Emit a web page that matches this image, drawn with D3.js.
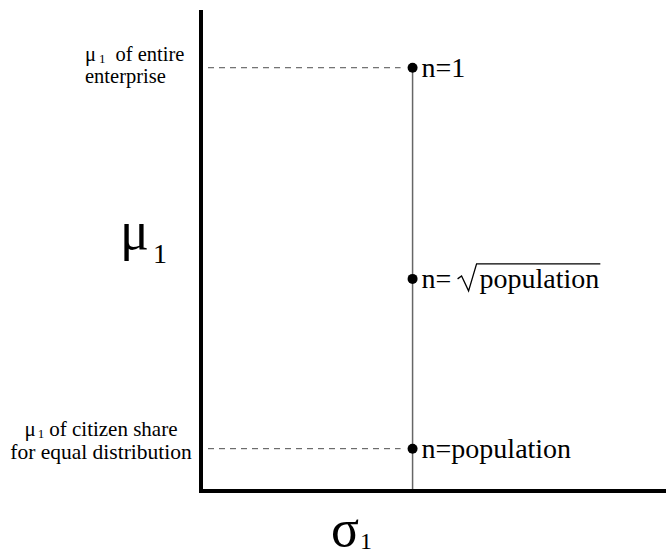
<!DOCTYPE html>
<html>
<head>
<meta charset="utf-8">
<script src="https://cdn.jsdelivr.net/npm/d3@7"></script>
<style>
body { margin: 0; background: #fff; }
svg text { font-family: "Liberation Serif", "Times New Roman", "DejaVu Serif", serif; fill: #000; }
</style>
</head>
<body>
<script>
// conceptual values (axis units 0..1)
var sigmaValue = 0.455;
var muValues = [0.88, 0.441, 0.088];
var pointLabels = ["n=1", "n=", "n=population"];
var dashedLevels = [0, 2];

var width = 666, height = 558;
var x = d3.scaleLinear().domain([0, 1]).range([201, 666]);
var y = d3.scaleLinear().domain([0, 1]).range([491, 10]);

var svg = d3.select("body").append("svg")
	.attr("width", width)
	.attr("height", height);

// vertical line through points
svg.append("line")
	.attr("x1", x(sigmaValue)).attr("x2", x(sigmaValue))
	.attr("y1", y(muValues[0])).attr("y2", y(0))
	.style("stroke", "#666").style("stroke-width", 1.5);

// dashed guides
svg.selectAll(".guide")
	.data(dashedLevels)
	.enter().append("line")
	.attr("class", "guide")
	.attr("x1", 208)
	.attr("x2", x(sigmaValue) - 12)
	.attr("y1", function(d) { return y(muValues[d]); })
	.attr("y2", function(d) { return y(muValues[d]); })
	.style("stroke", "#000").style("stroke-width", 0.7)
	.style("stroke-dasharray", "6,5");

// axes
svg.append("path")
	.attr("d", "M" + x(0) + "," + y(1) + "V" + y(0) + "H" + x(1))
	.style("fill", "none").style("stroke", "#000").style("stroke-width", 4);

// points
svg.selectAll(".pt")
	.data(muValues)
	.enter().append("circle")
	.attr("class", "pt")
	.attr("cx", x(sigmaValue))
	.attr("cy", function(d) { return y(d); })
	.attr("r", 5);

svg.selectAll(".lbl")
	.data(muValues)
	.enter().append("text")
	.attr("class", "lbl")
	.attr("x", x(sigmaValue) + 9)
	.attr("y", function(d) { return y(d) + 9; })
	.style("font-size", "28px")
	.text(function(d, i) { return pointLabels[i]; });

// sqrt(population)
var sq = svg.append("g").attr("transform", "translate(" + (x(sigmaValue) + 45) + "," + (y(muValues[1]) + 9) + ")");
var pop = sq.append("text").attr("x", 22).attr("y", 0).style("font-size", "28px").text("population");
var pw = pop.node().getComputedTextLength();
sq.append("path")
	.attr("d", "M0,-9L4,-12L11,3L19,-24H" + (22 + pw + 1))
	.style("fill", "none").style("stroke", "#000").style("stroke-width", 1.3);

// text with subscript, built from separate pieces
function subLabel(x0, y0, main, mainSize, sub, subSize, subDx, subDy, rest, restDx, anchor) {
	var g = svg.append("g");
	var a = g.append("text").attr("y", y0).style("font-size", mainSize + "px").text(main);
	var aw = a.node().getComputedTextLength();
	var b = g.append("text").attr("y", y0 + subDy).style("font-size", subSize + "px").text(sub);
	var bw = b.node().getComputedTextLength();
	var c = null, cw = 0;
	if (rest) {
		c = g.append("text").attr("y", y0).style("font-size", mainSize + "px").text(rest);
		cw = c.node().getComputedTextLength();
	}
	var total = aw + subDx + bw + (rest ? restDx + cw : 0);
	var start = anchor === "middle" ? x0 - total / 2 : x0;
	a.attr("x", start);
	b.attr("x", start + aw + subDx);
	if (c) c.attr("x", start + aw + subDx + bw + restDx);
}

// left annotations
subLabel(85, 61, "\u03BC", 20.5, "1", 13, 3, 2, "of entire", 10, "start");
svg.append("text").attr("x", 85).attr("y", 83).style("font-size", "20.5px").text("enterprise");

subLabel(101, 436, "\u03BC", 21, "1", 13, 2, 2, "of citizen share", 5, "middle");
svg.append("text").attr("x", 101).attr("y", 459).attr("text-anchor", "middle").style("font-size", "21.5px").text("for equal distribution");

// axis titles
subLabel(120, 249, "\u03BC", 54, "1", 28, 4, 14, null, 0, "start");
subLabel(331, 546, "\u03C3", 52, "1", 24, 1, 3, null, 0, "start");
</script>
</body>
</html>
